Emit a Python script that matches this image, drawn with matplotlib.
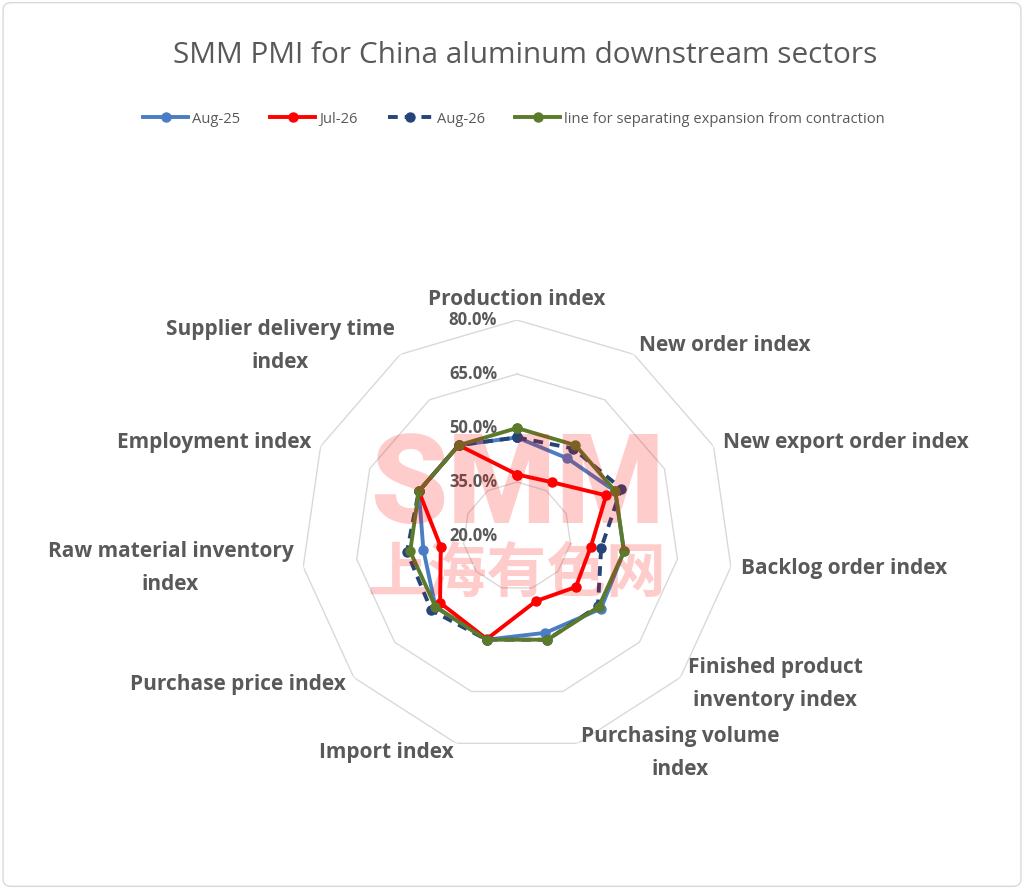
import numpy as np
import matplotlib
matplotlib.use("Agg")
import matplotlib.pyplot as plt
from matplotlib.patches import FancyBboxPatch

plt.rcParams['font.family'] = ['Open Sans', 'DejaVu Sans']

# data (percent)
categories = ["Production index", "New order index", "New export order index",
              "Backlog order index", "Finished product\ninventory index",
              "Purchasing volume\nindex", "Import index", "Purchase price index",
              "Raw material inventory\nindex", "Employment index",
              "Supplier delivery time\nindex"]
aug25 = [47.4, 45.7, 50.0, 50.0, 50.8, 48.0, 50.0, 50.0, 46.3, 50.0, 50.0]
jul26 = [37.1, 37.8, 47.2, 40.7, 41.6, 38.8, 49.8, 48.3, 41.4, 50.0, 50.0]
aug26 = [47.4, 48.9, 51.8, 43.6, 49.7, 50.0, 50.0, 51.5, 50.9, 50.0, 50.0]
line50 = [50.0] * 11
rings = [35, 50, 65, 80]
ring_labels = ["20.0%", "35.0%", "50.0%", "65.0%", "80.0%"]
ring_vals = [20, 35, 50, 65, 80]

gray = '#595959'
n = len(categories)
ang = np.arange(n) * 2 * np.pi / n
ang_c = np.append(ang, ang[0])

def close(v):
    return np.append(v, v[0])

fig = plt.figure(figsize=(10.24, 8.89), dpi=100)
ax = fig.add_axes([0.294, 0.154, 0.4219, 0.486], projection='polar')
ax.set_theta_offset(np.pi / 2)
ax.set_theta_direction(-1)
ax.set_ylim(20, 80)
ax.set_xticks([])
ax.set_yticks([])
ax.grid(False)
ax.spines['polar'].set_visible(False)
ax.patch.set_alpha(0)

for r in rings:
    ax.plot(ang_c, [r] * (n + 1), color='#D9D9D9', lw=1, zorder=1)

for v, lab in zip(ring_vals, ring_labels):
    ax.annotate(lab, xy=(0, v), xytext=(-20, 0), textcoords='offset pixels',
                ha='right', va='center', fontsize=12, fontweight='bold', color=gray,
                zorder=2)

lw, ms = 2.8, 6.5
ax.plot(ang_c, close(aug25), color='#4A7DC4', lw=lw, marker='o', ms=ms, zorder=3, label='Aug-25')
ax.plot(ang_c, close(jul26), color='#FF0000', lw=lw, marker='o', ms=ms, zorder=4, label='Jul-26')
ax.plot(ang_c, close(aug26), color='#264478', lw=lw, ls=(0, (2.5, 1.8)), marker='o', ms=ms, zorder=5, label='Aug-26')
ax.plot(ang_c, close(line50), color='#5B7B2B', lw=lw, marker='o', ms=ms, zorder=6,
        label='line for separating expansion from contraction')

for a, lab in zip(ang, categories):
    s, c = np.sin(a), np.cos(a)
    if s > 0.2:
        ha = 'left'
    elif s < -0.2:
        ha = 'right'
    else:
        ha = 'center'
    va = 'bottom' if c > 0.9 else 'center'
    ax.annotate(lab, xy=(a, 80), xytext=(10 * s, 10 * c), textcoords='offset pixels',
                ha=ha, va=va, multialignment='center', fontsize=15, fontweight='bold',
                color=gray, annotation_clip=False, linespacing=1.75)

fig.text(0.513, 0.938, "SMM PMI for China aluminum downstream sectors", ha='center', va='center',
         fontsize=21.4, color=gray)

leg = fig.legend(loc='center', bbox_to_anchor=(0.502, 0.866), ncol=4, frameon=False,
                 fontsize=10.6, handlelength=3.06, columnspacing=2.04, handletextpad=0.27)
for t in leg.get_texts():
    t.set_color(gray)

# watermark
fig.text(0.505, 0.450, "SMM", ha='center', va='center', fontsize=89, fontweight='black',
         family=['Roboto', 'DejaVu Sans'], color='#FF0000', alpha=0.2, zorder=20)
fig.text(0.505, 0.353, "上海有色网", ha='center', va='center', fontsize=43, fontweight='black',
         family=['Noto Sans CJK SC', 'DejaVu Sans'], color='#FF0000', alpha=0.2, zorder=20)

fig.patches.append(FancyBboxPatch((0.003, 0.003), 0.994, 0.994, boxstyle='round,pad=0,rounding_size=0.008',
                                  transform=fig.transFigure, fill=False, edgecolor='#D9D9D9', lw=1))

fig.savefig('out.png', dpi=100)
